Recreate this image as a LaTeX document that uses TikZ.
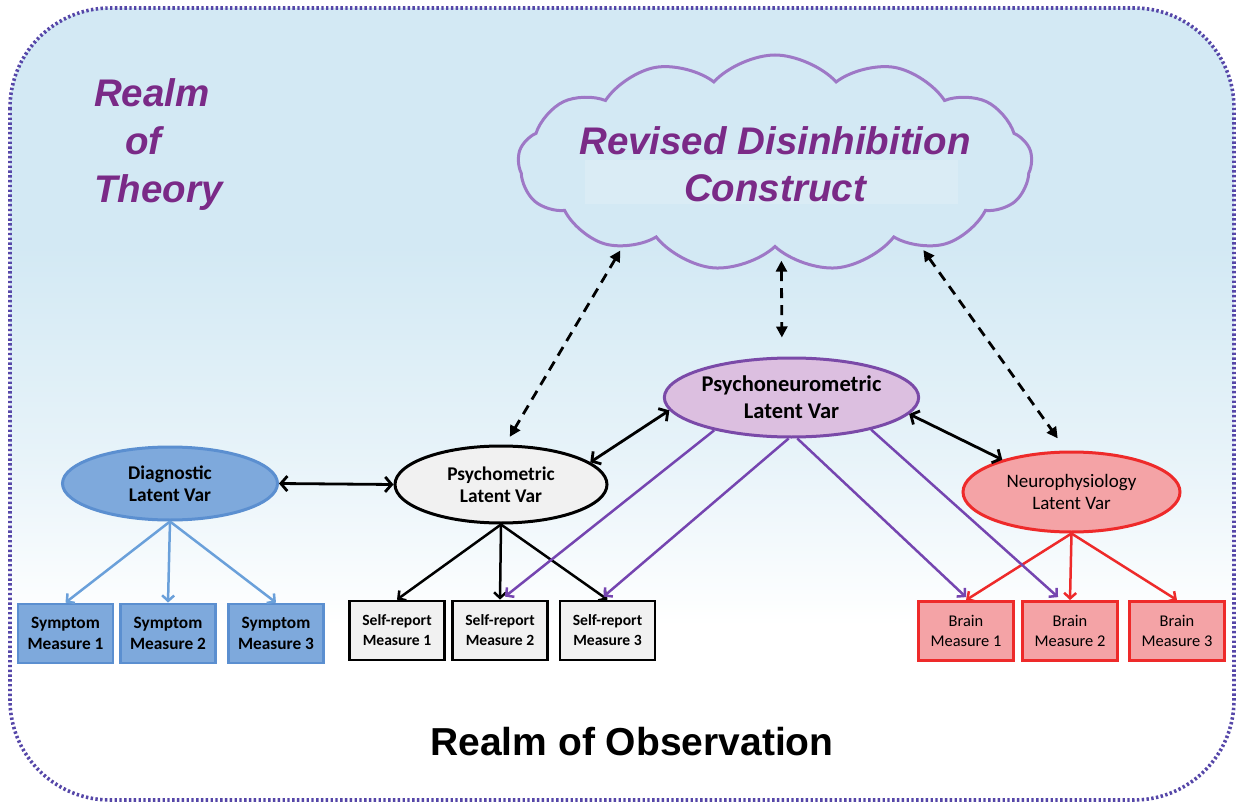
\documentclass[tikz,border=0pt]{standalone}
\usepackage{fontspec}
\setmainfont{Liberation Sans}
\newfontfamily\calib{Carlito}
\usetikzlibrary{shapes.geometric,shapes.symbols,arrows.meta,calc}
\definecolor{bgblue}{HTML}{D3E9F4}
\definecolor{bordercol}{HTML}{5546A8}
\definecolor{titlepurple}{HTML}{7A2A87}
\definecolor{cloudline}{HTML}{9E78C6}
\definecolor{diagfill}{HTML}{7EA9DC}
\definecolor{diagline}{HTML}{5B8FD0}
\definecolor{diagarrow}{HTML}{6AA0DA}
\definecolor{psyfill}{HTML}{F1F1F1}
\definecolor{pneufill}{HTML}{DCBFE0}
\definecolor{pneuline}{HTML}{7A4AA8}
\definecolor{purparrow}{HTML}{7545B0}
\definecolor{neurofill}{HTML}{F4A3A6}
\definecolor{redline}{HTML}{EE2A2A}
\pgfdeclareverticalshading{bgshade}{100bp}{color(0bp)=(white); color(25bp)=(white); color(36bp)=(white); color(47bp)=(bgblue!55!white); color(60bp)=(bgblue); color(100bp)=(bgblue)}
\begin{document}
\begin{tikzpicture}[x=1pt,y=-1pt,
  lat/.style={ellipse, line width=3pt, inner sep=0pt, align=center},
  latfont/.style={font=\calib\bfseries\fontsize{19.4}{22}\selectfont},
  meas/.style={rectangle, line width=2.8pt, minimum width=95pt, minimum height=59pt, inner sep=0pt, align=center},
  measfont/.style={font=\calib\bfseries\fontsize{17.3}{21}\selectfont},
  srfont/.style={font=\calib\bfseries\fontsize{15.6}{20}\selectfont},
  brfont/.style={font=\calib\fontsize{16.4}{20}\selectfont},
  tree/.style={line width=2.5pt, -{Straight Barb[length=5.5pt,width=12pt]}},
  dbl/.style={line width=2.8pt, {Straight Barb[length=6.5pt,width=15pt]}-{Straight Barb[length=6.5pt,width=15pt]}},
  dsh/.style={line width=2.8pt, dash pattern=on 10pt off 7pt, {Triangle[length=11pt,width=11pt]}-{Triangle[length=11pt,width=11pt]}},
  bigtitle/.style={text=titlepurple, font=\bfseries\itshape\fontsize{38.5}{47}\selectfont, inner sep=0pt}
]
\useasboundingbox (0,0) rectangle (1242,802);
% background
\path[shading=bgshade, rounded corners=100pt] (10,8) rectangle (1234,800);
\draw[bordercol, line width=3.6pt, dash pattern=on 2.4pt off 2.4pt, rounded corners=100pt] (10,8) rectangle (1234,800);

% realm of theory
\node[bigtitle, align=left, anchor=north west] (theory) at (94,78) {Realm\\[1pt]\hspace*{31pt}of\\[1pt]Theory};

% cloud
\node[cloud, cloud puffs=13, cloud puff arc=95, aspect=2.4, minimum width=514pt, minimum height=216pt,
      draw=cloudline, line width=3pt, fill=bgblue, inner sep=0pt] (cloud) at (775,163) {};
\fill[white, opacity=0.18] (585,160) rectangle (958,204);
\node[bigtitle, align=center] (ctext) at (775,164) {Revised Disinhibition\\Construct};

% latent variables
\node[lat, latfont, draw=diagline, fill=diagfill, minimum width=215pt, minimum height=73pt] (diag) at (170,483.5) {Diagnostic\\Latent Var};
\node[lat, latfont, draw=black, fill=psyfill, minimum width=212pt, minimum height=77pt] (psym) at (501,484.5) {Psychometric\\Latent Var};
\node[lat, draw=pneuline, fill=pneufill, minimum width=241pt, minimum height=79pt,
      font=\calib\bfseries\fontsize{22.5}{27}\selectfont] (pneu) at (791.5,397.5) {Psychoneurometric\\Latent Var};
\node[lat, draw=redline, fill=neurofill, minimum width=217pt, minimum height=80pt,
      font=\calib\fontsize{19}{22}\selectfont] (neuro) at (1071.5,492) {Neurophysiology\\Latent Var};

% measures
\node[meas, measfont, draw=diagline, fill=diagfill] (sym1) at (65.5,633.5) {Symptom\\Measure 1};
\node[meas, measfont, draw=diagline, fill=diagfill] (sym2) at (168,633.5) {Symptom\\Measure 2};
\node[meas, measfont, draw=diagline, fill=diagfill] (sym3) at (276,633.5) {Symptom\\Measure 3};

\node[meas, srfont, draw=black, fill=psyfill] (sr1) at (397,630.5) {Self-report\\Measure 1};
\node[meas, srfont, draw=black, fill=psyfill] (sr2) at (500,630.5) {Self-report\\Measure 2};
\node[meas, srfont, draw=black, fill=psyfill] (sr3) at (607.5,630.5) {Self-report\\Measure 3};

\node[meas, brfont, draw=redline, fill=neurofill] (br1) at (966,631) {Brain\\Measure 1};
\node[meas, brfont, draw=redline, fill=neurofill] (br2) at (1070,631) {Brain\\Measure 2};
\node[meas, brfont, draw=redline, fill=neurofill] (br3) at (1177,631) {Brain\\Measure 3};

% realm of observation
\node[font=\bfseries\fontsize{39}{44}\selectfont, inner sep=0pt] (obs) at (632,742) {Realm of Observation};

% dashed arrows to cloud
\draw[dsh, shorten <=3pt, shorten >=9pt] (cloud.209) -- (psym.84);
\draw[dsh, shorten <=7pt, shorten >=19pt] (cloud.274) -- (pneu.north -| 782,0);
\draw[dsh, shorten <=3pt, shorten >=15pt] (cloud.330) -- (neuro.97);

% double arrows
\draw[dbl] (diag.east) -- (psym.west);
\draw[dbl] (psym.14) -- (pneu.186);
\draw[dbl] (pneu.-8) -- (neuro.155);

% tree arrows
\foreach \m in {sym1,sym2,sym3} \draw[tree, diagarrow] (diag.south) -- (\m.north);
\foreach \m in {sr1,sr2,sr3} \draw[tree, black] (psym.south) -- (\m.north);
\foreach \m in {br1,br2,br3} \draw[tree, redline] (neuro.south) -- (\m.north);

% purple arrows
\draw[tree, purparrow] (pneu.203) -- ($(sr2.north)+(5,-3)$);
\draw[tree, purparrow] (pneu.266) -- ($(sr3.north)+(-4,-3)$);
\draw[tree, purparrow] (pneu.278) -- ($(br1.north)+(0,-3)$);
\draw[tree, purparrow] (pneu.-22) -- ($(br2.north)+(-12,-3)$);
\end{tikzpicture}
\end{document}
